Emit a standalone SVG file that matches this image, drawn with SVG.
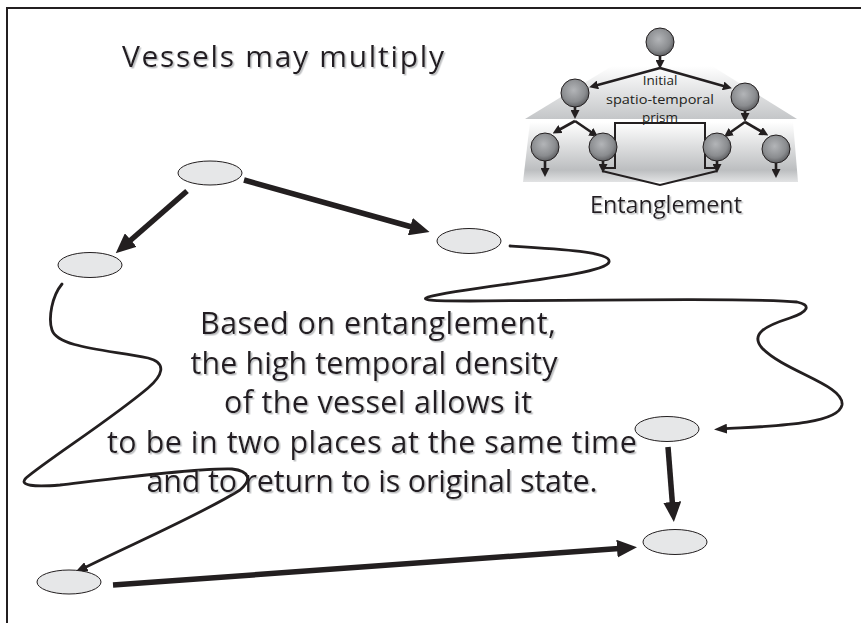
<svg xmlns="http://www.w3.org/2000/svg" width="861" height="623" viewBox="0 0 861 623">
  <defs>
    <style>
      .node { fill: #e6e7e8; stroke: #231f20; stroke-width: 1; }
      .thick { fill: none; stroke: #231f20; stroke-width: 5.5; }
      .thin { fill: none; stroke: #231f20; stroke-width: 2.8; stroke-linecap: round; }
      .mini { fill: none; stroke: #231f20; stroke-width: 2.6; }
      .ball { fill: url(#ballGrad); stroke: #231f20; stroke-width: 1; }
      .txt { font-family: "Open Sans", "Noto Sans", "Liberation Sans", sans-serif; fill: #231f20; }
      .shadowed { filter: url(#textShadow); }
    </style>
    <marker id="bigHead" viewBox="0 0 20 18" refX="9" refY="9" markerWidth="20" markerHeight="18" markerUnits="userSpaceOnUse" orient="auto">
      <path d="M0,0 L20,9 L0,18 z" fill="#231f20"/>
    </marker>
    <marker id="thinHead" viewBox="0 0 13 10" refX="5" refY="5" markerWidth="13" markerHeight="10" markerUnits="userSpaceOnUse" orient="auto">
      <path d="M0,0 L13,5 L0,10 z" fill="#231f20"/>
    </marker>
    <marker id="miniHead" viewBox="0 0 9 9" refX="4" refY="4.5" markerWidth="9" markerHeight="9" markerUnits="userSpaceOnUse" orient="auto">
      <path d="M0,0 L9,4.5 L0,9 z" fill="#231f20"/>
    </marker>
    <radialGradient id="ballGrad" cx="0.45" cy="0.4" r="0.6">
      <stop offset="0" stop-color="#b3b5b8"/>
      <stop offset="0.7" stop-color="#8a8c8f"/>
      <stop offset="1" stop-color="#5f6063"/>
    </radialGradient>
    <linearGradient id="upperBand" x1="0" y1="0" x2="0" y2="1">
      <stop offset="0" stop-color="#ffffff"/>
      <stop offset="1" stop-color="#c4c6c8"/>
    </linearGradient>
    <linearGradient id="lowerBand" x1="0" y1="0" x2="0" y2="1">
      <stop offset="0" stop-color="#ffffff"/>
      <stop offset="0.8" stop-color="#bcbec0"/>
      <stop offset="1" stop-color="#e2e3e4"/>
    </linearGradient>
    <filter id="textShadow" x="-5%" y="-20%" width="110%" height="140%">
      <feDropShadow dx="1.5" dy="1.5" stdDeviation="0.6" flood-color="#a7a9ac" flood-opacity="0.75"/>
    </filter>
  </defs>

  <rect x="0" y="0" width="861" height="623" fill="#ffffff"/>

  <!-- page frame (top and left edges) -->
  <path d="M7,623 V8 H861" fill="none" stroke="#231f20" stroke-width="2"/>

  <!-- title -->
  <text class="txt shadowed" x="283" y="67" font-size="30" text-anchor="middle" textLength="322" lengthAdjust="spacing">Vessels may multiply</text>

  <!-- inset: branching spatio-temporal prism -->
  <g id="inset">
    <path d="M612,66 L712,66 L797,119 L525,119 Z" fill="url(#upperBand)"/>
    <path d="M530,122 L793,122 L798,182 L523,182 Z" fill="url(#lowerBand)"/>

    <text class="txt" x="660" y="85" font-size="13.5" text-anchor="middle">Initial</text>
    <text class="txt" x="660" y="104" font-size="13.5" text-anchor="middle" textLength="108" lengthAdjust="spacingAndGlyphs">spatio-temporal</text>
    <text class="txt" x="660" y="122" font-size="13.5" text-anchor="middle">prism</text>

    <!-- branching arrows -->
    <line class="mini" x1="660" y1="56" x2="660" y2="64" marker-end="url(#miniHead)"/>
    <line class="mini" x1="660" y1="68" x2="594" y2="86" marker-end="url(#miniHead)"/>
    <line class="mini" x1="660" y1="68" x2="727" y2="87" marker-end="url(#miniHead)"/>
    <line class="mini" x1="575" y1="107" x2="575" y2="114" marker-end="url(#miniHead)"/>
    <line class="mini" x1="575" y1="121" x2="557" y2="131" marker-end="url(#miniHead)"/>
    <line class="mini" x1="575" y1="121" x2="594" y2="134" marker-end="url(#miniHead)"/>
    <line class="mini" x1="745" y1="111" x2="745" y2="117" marker-end="url(#miniHead)"/>
    <line class="mini" x1="745" y1="122" x2="728" y2="134" marker-end="url(#miniHead)"/>
    <line class="mini" x1="745" y1="122" x2="764" y2="133" marker-end="url(#miniHead)"/>
    <line class="mini" x1="545" y1="161" x2="545" y2="172" marker-end="url(#miniHead)"/>
    <line class="mini" x1="603" y1="161" x2="603" y2="168" marker-end="url(#miniHead)"/>
    <line class="mini" x1="717" y1="161" x2="717" y2="168" marker-end="url(#miniHead)"/>
    <line class="mini" x1="776" y1="163" x2="776" y2="173" marker-end="url(#miniHead)"/>

    <!-- entanglement bracket -->
    <path d="M603,168 H615 V123 H705 V168 H717" fill="none" stroke="#231f20" stroke-width="2"/>
    <path d="M602,171 L660,185 L717,171" fill="none" stroke="#231f20" stroke-width="2"/>

    <circle class="ball" cx="660" cy="42" r="14"/>
    <circle class="ball" cx="575" cy="93" r="14"/>
    <circle class="ball" cx="745" cy="97" r="14"/>
    <circle class="ball" cx="545" cy="147" r="14"/>
    <circle class="ball" cx="603" cy="147" r="14"/>
    <circle class="ball" cx="717" cy="147" r="14"/>
    <circle class="ball" cx="776" cy="149" r="14"/>

    <text class="txt shadowed" x="666" y="213" font-size="23" text-anchor="middle" textLength="152" lengthAdjust="spacingAndGlyphs">Entanglement</text>
  </g>

  <!-- connectors -->
  <g id="connectors">
    <line class="thick" x1="187" y1="191" x2="124" y2="246" marker-end="url(#bigHead)"/>
    <line class="thick" x1="244" y1="180" x2="419" y2="229" marker-end="url(#bigHead)"/>
    <line class="thick" x1="668" y1="447" x2="673" y2="511" marker-end="url(#bigHead)"/>
    <line class="thick" x1="113" y1="585" x2="626" y2="548" marker-end="url(#bigHead)"/>

    <path class="thin" d="M510,246 C560,249 612,252 609,262 C605,276 470,286 428,297 C420,300 430,301 470,301 C600,300 760,298 797,302 C812,305 808,312 790,318 C765,326 750,334 762,348 C785,372 845,385 842,405 C838,425 770,426 722,429" marker-end="url(#thinHead)"/>
    <path class="thin" d="M62,284 C52,296 48,318 52,330 C58,348 110,350 148,358 C168,363 162,376 148,388 C110,420 50,458 26,478 C18,486 35,487 60,485 C120,478 200,468 232,469 C250,471 252,480 240,490 C200,515 130,545 82,569" marker-end="url(#thinHead)"/>
  </g>

  <!-- vessel positions -->
  <g id="n-top"><ellipse class="node" cx="210" cy="173" rx="32" ry="12"/></g>
  <g id="n-left"><ellipse class="node" cx="90" cy="265" rx="32" ry="12.5"/></g>
  <g id="n-mid"><ellipse class="node" cx="469" cy="241" rx="32" ry="12.5"/></g>
  <g id="n-right-upper"><ellipse class="node" cx="667" cy="429" rx="32" ry="12.5"/></g>
  <g id="n-right-lower"><ellipse class="node" cx="675" cy="542" rx="32" ry="12.5"/></g>
  <g id="n-bottom-left"><ellipse class="node" cx="69" cy="582" rx="32" ry="12"/></g>

  <!-- explanation -->
  <g class="txt shadowed" font-size="30.5" text-anchor="middle">
    <text x="378" y="334" textLength="356" lengthAdjust="spacing">Based on entanglement,</text>
    <text x="374" y="374" textLength="367" lengthAdjust="spacing">the high temporal density</text>
    <text x="378" y="413" textLength="308" lengthAdjust="spacing">of the vessel allows it</text>
    <text x="372" y="453" textLength="530" lengthAdjust="spacing">to be in two places at the same time</text>
    <text x="372" y="492" textLength="451" lengthAdjust="spacing">and to return to is original state.</text>
  </g>
</svg>
